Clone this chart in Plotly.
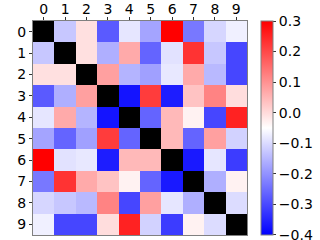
import plotly.graph_objects as go

labels = [str(i) for i in range(10)]
# upper triangle values (row i, col j>i)
upper = {
    (0,1): -0.127, (0,2): -0.008, (0,3): -0.277, (0,4): -0.085, (0,5): -0.175, (0,6): 0.30, (0,7): -0.235, (0,8): -0.106, (0,9): -0.07,
    (1,2): -0.008, (1,3): -0.16, (1,4): 0.067, (1,5): -0.263, (1,6): -0.09, (1,7): 0.23, (1,8): -0.127, (1,9): -0.304,
    (2,3): 0.08, (2,4): -0.153, (2,5): -0.18, (2,6): -0.082, (2,7): 0.067, (2,8): -0.146, (2,9): -0.304,
    (3,4): -0.373, (3,5): 0.218, (3,6): -0.36, (3,7): 0.032, (3,8): 0.12, (3,9): -0.003,
    (4,5): -0.263, (4,6): 0.046, (4,7): -0.032, (4,8): -0.304, (4,9): 0.254,
    (5,6): 0.046, (5,7): -0.263, (5,8): 0.08, (5,9): -0.112,
    (6,7): -0.366, (6,8): -0.085, (6,9): -0.318,
    (7,8): -0.16, (7,9): -0.032,
    (8,9): -0.098,
}
cbar_vals = [0.3, 0.2, 0.1, 0.0, -0.1, -0.2, -0.3, -0.3999]
cbar_text = ['0.3', '0.2', '0.1', '0.0', '\u22120.1', '\u22120.2', '\u22120.3', '\u22120.4']

n = len(labels)
z = [[None]*n for _ in range(n)]
diag = [[None]*n for _ in range(n)]
for (i, j), v in upper.items():
    z[i][j] = v
    z[j][i] = v
for i in range(n):
    diag[i][i] = 1

bwr = [[0, 'rgb(0,0,255)'], [0.5, 'rgb(255,255,255)'], [1, 'rgb(255,0,0)']]

fig = go.Figure()
fig.add_trace(go.Heatmap(
    z=z, x=list(range(n)), y=list(range(n)), zmin=-0.4, zmax=0.3, colorscale=bwr,
    colorbar=dict(x=1.065, xanchor='left', y=0.5, yanchor='middle', len=1.0, lenmode='fraction',
                  thickness=12, outlinewidth=1, outlinecolor='#808080', xpad=0, ypad=0,
                  tickvals=cbar_vals, ticktext=cbar_text, ticklabeloverflow='allow',
                  ticks='outside', ticklen=3, tickcolor='#333', tickfont=dict(size=14, color='black')),
))
fig.add_trace(go.Heatmap(
    z=diag, x=list(range(n)), y=list(range(n)), colorscale=[[0, 'black'], [1, 'black']],
    showscale=False, hoverinfo='skip'))

fig.update_layout(
    width=320, height=240,
    margin=dict(l=33, r=73, t=21, b=5, autoexpand=False),
    paper_bgcolor='white', plot_bgcolor='white',
    font=dict(family='DejaVu Sans', size=14, color='black'),
)
fig.update_xaxes(side='top', tickvals=list(range(n)), ticktext=labels, range=[-0.5, 9.5],
                 showgrid=False, zeroline=False, ticks='outside', ticklen=3, tickcolor='#333',
                 showline=True, linecolor='#808080', linewidth=1, mirror=True,
                 tickfont=dict(size=14), automargin=False, ticklabelstandoff=-3,
                 ticklabeloverflow='allow')
fig.update_yaxes(autorange=False, range=[9.5, -0.5], tickvals=list(range(n)), ticktext=labels,
                 showgrid=False, zeroline=False, ticks='outside', ticklen=3, tickcolor='#333',
                 showline=True, linecolor='#808080', linewidth=1, mirror=True,
                 tickfont=dict(size=14), automargin=False)

fig.write_html("out.html", config={'displayModeBar': False},
               post_script="document.body.style.margin='0';document.body.style.overflow='hidden';")
